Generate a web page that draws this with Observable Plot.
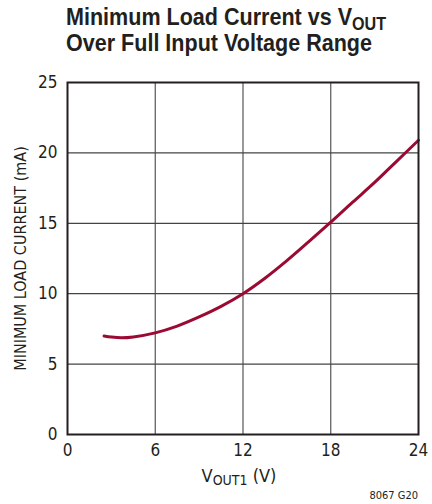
<!DOCTYPE html>
<html><head><meta charset="utf-8">
<script src="https://cdn.jsdelivr.net/npm/d3@7"></script>
<script src="https://cdn.jsdelivr.net/npm/@observablehq/plot@0.6"></script>
<style>
body{margin:0;background:#fff;}
#wrap{position:relative;width:432px;height:504px;font-family:"DejaVu Sans Condensed",sans-serif;}
#title{position:absolute;left:66px;top:4px;font-family:"Liberation Sans",Arial,sans-serif;font-size:24px;font-weight:bold;line-height:26px;color:#231f20;transform-origin:0 0;white-space:nowrap;}
#title sub{font-size:18px;vertical-align:-5px;line-height:0;}
#xlab{position:absolute;left:0;width:478px;text-align:center;top:465px;font-size:18px;color:#231f20;}
#xlab sub{font-size:14px;vertical-align:-3px;line-height:0;}
#cap{position:absolute;right:14px;top:489px;font-size:11px;color:#231f20;}
svg{position:absolute;left:0;top:0;}
</style></head>
<body><div id="wrap">
<div id="title"><span id="l1">Minimum Load Current vs V<sub>OUT</sub></span><br><span id="l2">Over Full Input Voltage Range</span></div>
<div id="xlab">V<sub>OUT1</sub> (V)</div>
<div id="cap">8067 G20</div>
</div>
<script>
const vout = [2.5, 3, 3.7, 4.5, 6, 7.5, 9, 10.5, 12, 13.5, 15, 16.5, 18, 19.5, 21, 22.5, 24];
const current = [7.0, 6.92, 6.87, 6.93, 7.22, 7.7, 8.35, 9.1, 10.0, 11.1, 12.35, 13.7, 15.08, 16.5, 17.9, 19.4, 20.9];
const xTicks = [0, 6, 12, 18, 24];
const yTicks = [0, 5, 10, 15, 20, 25];
const data = vout.map((v, i) => ({v, c: current[i]}));

const chart = Plot.plot({
  width: 432, height: 504,
  marginTop: 82, marginLeft: 67, marginRight: 14, marginBottom: 70,
  style: {fontFamily: '"DejaVu Sans Condensed",sans-serif', fontSize: "17px", color: "#231f20", background: "transparent"},
  x: {domain: [0, 24], label: null},
  y: {domain: [0, 25], label: null},
  marks: [
    Plot.gridX(xTicks.slice(1, -1), {stroke: "#555", strokeOpacity: 1, strokeWidth: 1.2}),
    Plot.gridY(yTicks.slice(1, -1), {stroke: "#444", strokeOpacity: 1, strokeWidth: 1.2}),
    Plot.line(data, {x: "v", y: "c", curve: "catmull-rom", stroke: "#9b0a33", strokeWidth: 3}),
    Plot.frame({stroke: "#231f20", strokeWidth: 2}),
    Plot.axisX({ticks: xTicks, tickSize: 0, tickPadding: 9, fontSize: 17, label: null}),
    Plot.axisY({ticks: yTicks, tickSize: 0, tickPadding: 10, fontSize: 17, label: null}),
    Plot.text(["MINIMUM LOAD CURRENT (mA)"], {frameAnchor: "left", dx: -47, rotate: -90, textAnchor: "middle", fontSize: 16, fill: "#231f20"})
  ]
});
document.getElementById("wrap").appendChild(chart);
const l2 = document.getElementById("l2");
const w = l2.getBoundingClientRect().width;
document.getElementById("title").style.transform = `scaleX(${306 / w})`;
</script>
</body></html>
